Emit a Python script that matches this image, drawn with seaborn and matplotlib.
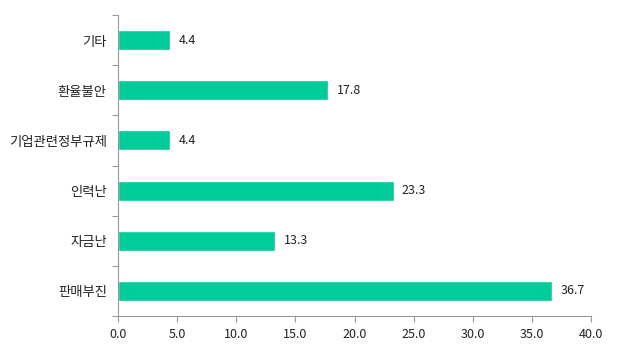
import matplotlib
matplotlib.use("Agg")
import matplotlib.pyplot as plt
import seaborn as sns
import pandas as pd
import numpy as np
from matplotlib.ticker import FixedLocator

categories = ["기타", "환율불안", "기업관련정부규제", "인력난", "자금난", "판매부진"]
values = [4.4, 17.8, 4.4, 23.3, 13.3, 36.7]
xticks = [0, 5, 10, 15, 20, 25, 30, 35, 40]

sns.set_theme(style="white")
plt.rcParams['font.family'] = ['Noto Sans CJK KR', 'DejaVu Sans']

df = pd.DataFrame({"category": categories, "value": values})

fig = plt.figure(figsize=(6.22, 3.49), dpi=100)
ax = fig.add_axes([118/622, 1-316/349, (591-118)/622, (316-15)/349])
sns.barplot(data=df, y="category", x="value", orient="h", color="#00CC99",
            width=0.4, saturation=1, ax=ax)

ax.set_xlim(0, 40)
ax.set_ylim(len(categories)-0.5, -0.5)
ax.set_xticks(xticks)
ax.set_xticklabels([f"{v:.1f}" for v in xticks], fontsize=9, color="#222222")
ax.set_xlabel("")
ax.set_ylabel("")
ax.tick_params(axis='y', which='major', length=0, labelsize=9.6, pad=8, labelcolor="#222222")
ax.yaxis.set_minor_locator(FixedLocator(np.arange(-0.5, len(categories), 1.0)))
ax.tick_params(axis='y', which='minor', length=4, color="#999999", width=0.8, direction='out', left=True)
ax.tick_params(axis='x', which='major', length=4, color="#999999", width=0.8, direction='out', bottom=True, pad=5)

for s in ["top", "right"]:
    ax.spines[s].set_visible(False)
for s in ["left", "bottom"]:
    ax.spines[s].set_color("#999999")
    ax.spines[s].set_linewidth(0.8)

for i, v in enumerate(values):
    ax.annotate(f"{v:.1f}", xy=(v, i), xytext=(6, 0), textcoords="offset points",
                va="center", ha="left", fontsize=9, color="#222222")

fig.savefig("out.png", dpi=100)
